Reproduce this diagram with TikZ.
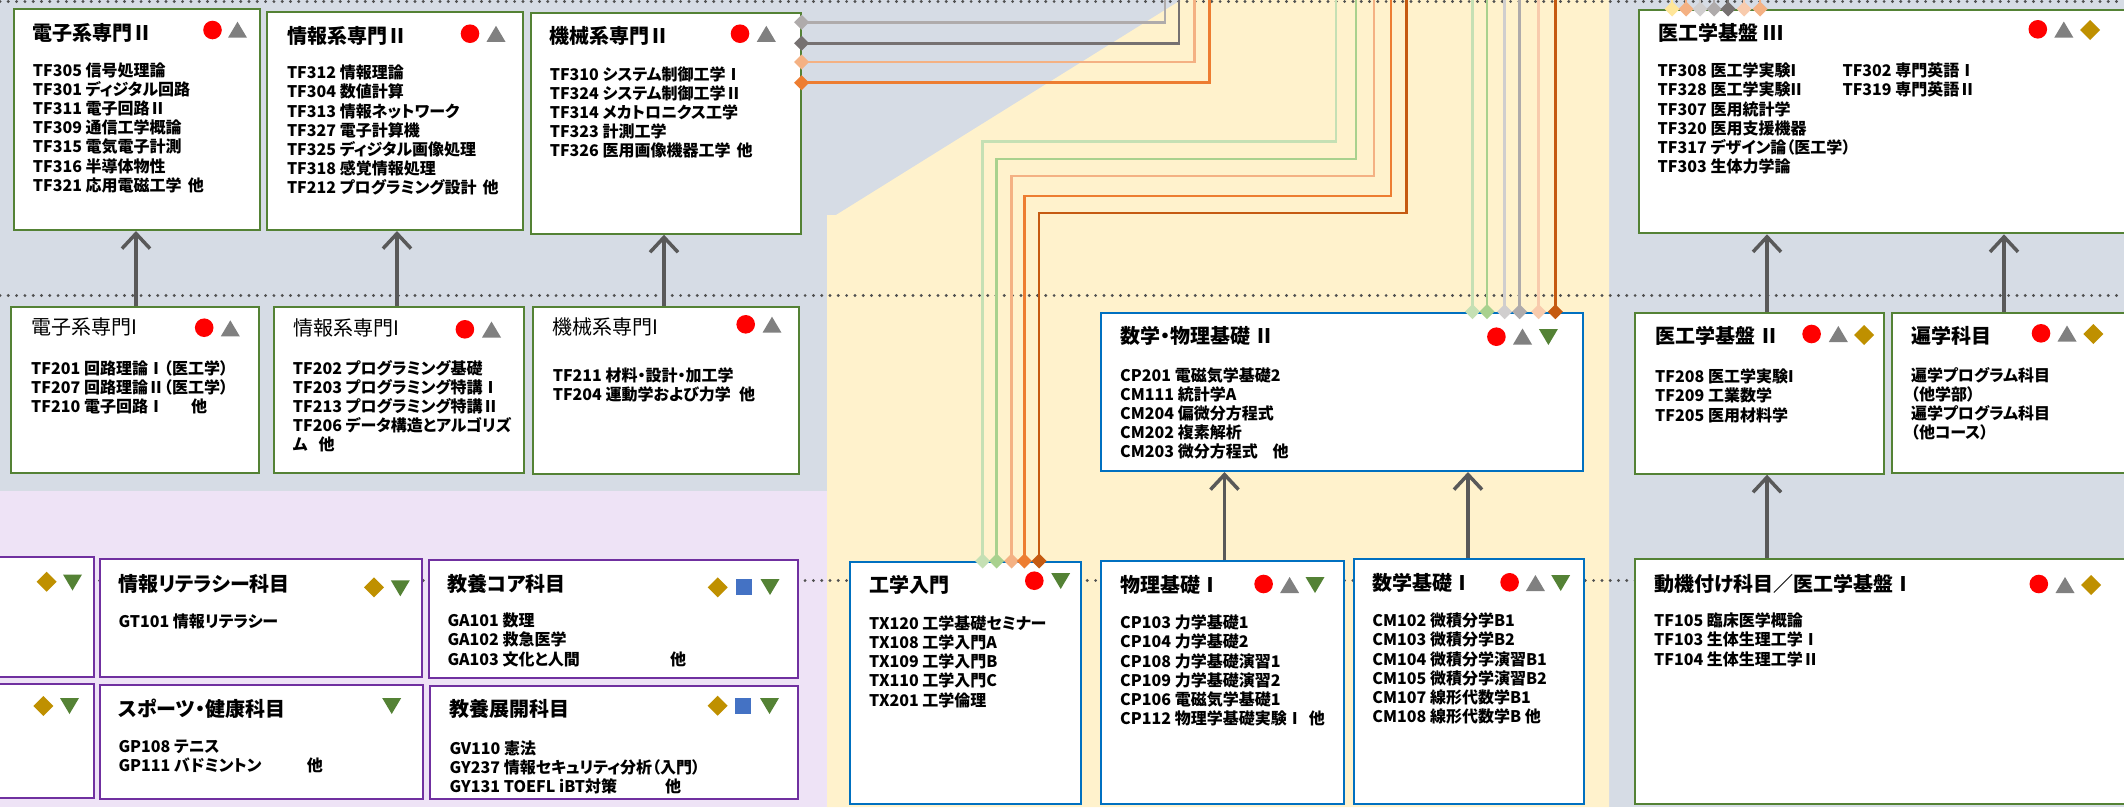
\documentclass[tikz,border=0pt]{standalone}
\usepackage{fontspec}
\setmainfont{Noto Sans CJK JP}[RawFeature=+palt]
\usetikzlibrary{arrows.meta}
\definecolor{bgblue}{HTML}{D6DCE5}
\definecolor{bgyellow}{HTML}{FFF2CC}
\definecolor{bgpurple}{HTML}{EEE3F6}
\definecolor{boxgreen}{HTML}{548235}
\definecolor{boxblue}{HTML}{0070C0}
\definecolor{boxpurple}{HTML}{7030A0}
\definecolor{arrowgray}{HTML}{595959}
\definecolor{dotgray}{HTML}{505050}
\definecolor{cred}{HTML}{FF0000}
\definecolor{cgray}{HTML}{808080}
\definecolor{cgreen}{HTML}{548235}
\definecolor{cgold}{HTML}{BF9000}
\definecolor{cblue}{HTML}{4472C4}
\definecolor{kLGreen}{HTML}{C5E0B4}
\definecolor{kGreen}{HTML}{A9D18E}
\definecolor{kLOrange}{HTML}{F4B183}
\definecolor{kOrange}{HTML}{ED7D31}
\definecolor{kDOrange}{HTML}{C55A11}
\definecolor{kPeach}{HTML}{F8CBAD}
\definecolor{kLGray}{HTML}{D0CECE}
\definecolor{kGray}{HTML}{AFABAB}
\definecolor{kDGray}{HTML}{767171}
\definecolor{kYellow}{HTML}{FFE699}
\newcommand\lns[1]{\parbox[t]{500pt}{\raggedright #1}}
\newcommand\symC[2]{\fill[cred] (#1,#2) circle[radius=9.3];}
\newcommand\symT[2]{\fill[cgray] ({#1-9.5},{#2+8}) -- ({#1+9.5},{#2+8}) -- (#1,{#2-8}) -- cycle;}
\newcommand\symG[2]{\fill[cgreen] ({#1-9.5},{#2-8}) -- ({#1+9.5},{#2-8}) -- (#1,{#2+8}) -- cycle;}
\newcommand\symD[2]{\fill[cgold] ({#1-10},#2) -- (#1,{#2-10}) -- ({#1+10},#2) -- (#1,{#2+10}) -- cycle;}
\newcommand\symS[2]{\fill[cblue] ({#1-8},{#2-8}) rectangle ({#1+8},{#2+8});}
\tikzset{
  boxbase/.style={line width=2pt, fill=white, inner sep=0pt, anchor=north west},
  gbox/.style={boxbase, draw=boxgreen},
  bbox/.style={boxbase, draw=boxblue},
  pbox/.style={boxbase, draw=boxpurple},
  ttl/.style={font=\fontsize{20}{24}\selectfont\bfseries, inner sep=0pt, anchor=base west},
  ttlr/.style={font=\fontsize{20}{24}\selectfont, inner sep=0pt, anchor=base west},
  bod/.style={font=\fontsize{16}{19.2}\selectfont\bfseries, inner sep=0pt, anchor=base west},
  garrow/.style={draw=arrowgray, line width=3.5pt, -{Straight Barb[length=15pt,width=28pt]}},
  conn/.style={color=#1, line width=2.5pt, -{Diamond[length=15pt,width=15pt]}, shorten >=-7.5pt},
  dotline/.style={draw=dotgray, line width=3.2pt, line cap=round, dash pattern=on 0pt off 8.3pt}
}
\begin{document}
\begin{tikzpicture}[x=1pt,y=-1pt]
\useasboundingbox (0,0) rectangle (2124,807);
\clip (0,0) rectangle (2124,807);
% backgrounds
\fill[bgblue] (0,0) rectangle (2124,807);
\fill[bgpurple] (0,491) rectangle (827,807);
\fill[bgyellow] (827,807) -- (827,215) -- (836,215) -- (1181,0) -- (1609,0) -- (1609,807) -- cycle;
% dotted guide lines
\draw[dotline] (0,1.5) -- (2124,1.5);
\draw[dotline] (0,295.5) -- (2124,295.5);
\draw[dotline] (0,580.5) -- (2124,580.5);
% ---------- boxes ----------
\node[gbox, minimum width=246.6pt, minimum height=220.7pt] (eII) at (12.7,8.3) {};
\node[gbox, minimum width=255.7pt, minimum height=218.3pt] (iII) at (266,10.7) {};
\node[gbox, minimum width=270pt, minimum height=220.4pt] (kII) at (529.6,12.3) {};
\node[gbox, minimum width=520pt, minimum height=223.3pt] (m3) at (1637.8,9) {};
\node[gbox, minimum width=248pt, minimum height=166.6pt] (eI) at (10.3,305.7) {};
\node[gbox, minimum width=250pt, minimum height=166.6pt] (iI) at (272.7,305.7) {};
\node[gbox, minimum width=266pt, minimum height=167pt] (kI) at (532.2,305.7) {};
\node[bbox, minimum width=482pt, minimum height=158.3pt] (mp2) at (1100,311.7) {};
\node[gbox, minimum width=249pt, minimum height=161pt] (m2) at (1634.4,311.7) {};
\node[gbox, minimum width=260pt, minimum height=160.3pt] (hen) at (1890.8,311.7) {};
\node[pbox, minimum width=122.7pt, minimum height=120pt] (L1) at (-30,556) {};
\node[pbox, minimum width=322pt, minimum height=117.7pt] (joho) at (98.7,558.3) {};
\node[pbox, minimum width=369pt, minimum height=118pt] (core) at (427.7,559.3) {};
\node[pbox, minimum width=122.7pt, minimum height=113.4pt] (L2) at (-30,683.3) {};
\node[pbox, minimum width=323.6pt, minimum height=114pt] (sports) at (98.7,684.3) {};
\node[pbox, minimum width=367.4pt, minimum height=113.3pt] (tenkai) at (429.3,685) {};
\node[bbox, minimum width=231pt, minimum height=241.7pt] (kogaku) at (848.6,561) {};
\node[bbox, minimum width=242.8pt, minimum height=243.3pt] (butsuri) at (1100.4,560) {};
\node[bbox, minimum width=230.3pt, minimum height=244.4pt] (sugaku) at (1352.9,558.3) {};
\node[gbox, minimum width=520pt, minimum height=244.4pt] (doki) at (1634.4,558.3) {};
% ---------- titles ----------
\node[ttl] (eIIt) at (32.7,40) {電子系専門Ⅱ};
\node[ttl] (iIIt) at (286.8,43) {情報系専門Ⅱ};
\node[ttl] (kIIt) at (549.6,43.5) {機械系専門Ⅱ};
\node[ttl] (m3t) at (1658.5,40.5) {医工学基盤 Ⅲ};
\node[ttlr] (eIt) at (31,334) {電子系専門I};
\node[ttlr] (iIt) at (293.4,335) {情報系専門I};
\node[ttlr] (kIt) at (552.6,334) {機械系専門I};
\node[ttl] (mp2t) at (1120,343.5) {数学・物理基礎 Ⅱ};
\node[ttl] (m2t) at (1655,343.5) {医工学基盤 Ⅱ};
\node[ttl] (hent) at (1910.8,343.5) {遍学科目};
\node[ttl] (johot) at (118.3,591) {情報リテラシー科目};
\node[ttl] (coret) at (447.3,591) {教養コア科目};
\node[ttl] (sportst) at (118.3,716.5) {スポーツ・健康科目};
\node[ttl] (tenkait) at (449.3,716.5) {教養展開科目};
\node[ttl] (kogakut) at (869,592) {工学入門};
\node[ttl] (butsurit) at (1120,592) {物理基礎Ⅰ};
\node[ttl] (sugakut) at (1372.2,590) {数学基礎Ⅰ};
\node[ttl] (dokit) at (1653.9,591) {動機付け科目／医工学基盤Ⅰ};
% ---------- bodies ----------
\node[bod] (eIIb) at (32.7,76) {\lns{TF305 信号処理論\\TF301 ディジタル回路\\TF311 電子回路Ⅱ\\TF309 通信工学概論\\TF315 電気電子計測\\TF316 半導体物性\\\makebox[171pt][l]{TF321 応用電磁工学\hspace{6pt}\hfill 他}}};
\node[bod] (iIIb) at (286.8,78.7) {\lns{TF312 情報理論\\TF304 数値計算\\TF313 情報ネットワーク\\TF327 電子計算機\\TF325 ディジタル画像処理\\TF318 感覚情報処理\\\makebox[202.7pt][l]{TF212 プログラミング設計\hspace{6pt}\hfill 他}}};
\node[bod] (kIIb) at (549.6,80) {\lns{TF310 システム制御工学Ⅰ\\TF324 システム制御工学Ⅱ\\TF314 メカトロニクス工学\\TF323 計測工学\\\makebox[201.8pt][l]{TF326 医用画像機器工学\hspace{6pt}\hfill 他}}};
\node[bod] (m3b) at (1657.5,76.7) {\lns{TF308 医工学実験I\\TF328 医工学実験II\\TF307 医用統計学\\TF320 医用支援機器\\TF317 デザイン論（医工学）\\TF303 生体力学論}};
\node[bod] (m3c) at (1842.3,76.7) {\lns{TF302 専門英語Ⅰ\\TF319 専門英語Ⅱ}};
\node[bod] (eIb) at (31,374.3) {\lns{TF201 回路理論Ⅰ（医工学）\\TF207 回路理論Ⅱ（医工学）\\\makebox[176pt][l]{TF210 電子回路Ⅰ\hspace{6pt}\hfill 他}}};
\node[bod] (iIb) at (292.7,374) {\lns{TF202 プログラミング基礎\\TF203 プログラミング特講Ⅰ\\TF213 プログラミング特講Ⅱ\\TF206 データ構造とアルゴリズ\\\makebox[41.8pt][l]{ム\hspace{6pt}\hfill 他}}};
\node[bod] (kIb) at (552.6,381) {\lns{TF211 材料・設計・加工学\\\makebox[202.4pt][l]{TF204 運動学および力学\hspace{6pt}\hfill 他}}};
\node[bod] (mp2b) at (1120,381) {\lns{CP201 電磁気学基礎2\\CM111 統計学A\\CM204 偏微分方程式\\CM202 複素解析\\\makebox[168.5pt][l]{CM203 微分方程式\hspace{6pt}\hfill 他}}};
\node[bod] (m2b) at (1655,382.7) {\lns{TF208 医工学実験I\\TF209 工業数学\\TF205 医用材料学}};
\node[bod] (henb) at (1910.8,381) {\lns{遍学プログラム科目\\（他学部）\\遍学プログラム科目\\（他コース）}};
\node[bod] (johob) at (118.3,627.7) {\lns{GT101 情報リテラシー}};
\node[bod] (coreb) at (447.3,626.7) {\lns{GA101 数理\\GA102 救急医学\\\makebox[238.7pt][l]{GA103 文化と人間\hspace{6pt}\hfill 他}}};
\node[bod] (sportsb) at (118.3,752.7) {\lns{GP108 テニス\\\makebox[204.4pt][l]{GP111 バドミントン\hspace{6pt}\hfill 他}}};
\node[bod] (tenkaib) at (449.3,754.3) {\lns{GV110 憲法\\GY237 情報セキュリティ分析（入門）\\\makebox[231.7pt][l]{GY131 TOEFL iBT対策\hspace{6pt}\hfill 他}}};
\node[bod] (kogakub) at (869,629.3) {\lns{TX120 工学基礎セミナー\\TX108 工学入門A\\TX109 工学入門B\\TX110 工学入門C\\TX201 工学倫理}};
\node[bod] (butsurib) at (1120,628.7) {\lns{CP103 力学基礎1\\CP104 力学基礎2\\CP108 力学基礎演習1\\CP109 力学基礎演習2\\CP106 電磁気学基礎1\\\makebox[204.6pt][l]{CP112 物理学基礎実験Ⅰ\hspace{6pt}\hfill 他}}};
\node[bod] (sugakub) at (1372.2,626.7) {\lns{CM102 微積分学B1\\CM103 微積分学B2\\CM104 微積分学演習B1\\CM105 微積分学演習B2\\CM107 線形代数学B1\\CM108 線形代数学B 他}};
\node[bod] (dokib) at (1653.9,626.7) {\lns{TF105 臨床医学概論\\TF103 生体生理工学Ⅰ\\TF104 生体生理工学Ⅱ}};
% ---------- symbols ----------
\symC{212.5}{30}\symT{237.5}{29.7}
\symC{470}{33.7}\symT{496}{33.8}
\symC{740}{33.7}\symT{766.3}{33.8}
\symC{2037.8}{29.3}\symT{2063.8}{29.5}\symD{2090}{30}
\symC{204.2}{327.7}\symT{230.3}{328.3}
\symC{464.9}{329.3}\symT{491.5}{329.5}
\symC{745.7}{324.3}\symT{772}{324.7}
\symC{1496.4}{336.7}\symT{1522.5}{336.5}\symG{1548.4}{337}
\symC{1811.6}{334}\symT{1838.3}{334}\symD{1864}{335}
\symC{2041}{333.3}\symT{2067}{333.5}\symD{2093.3}{334}
\symD{46.7}{581.7}\symG{72.5}{582.5}
\symD{374}{587.3}\symG{400.3}{588.3}
\symD{717.7}{587.3}\symS{743.8}{587}\symG{770}{587}
\symD{43.3}{706}\symG{69.5}{706}
\symG{391.7}{706}
\symD{717.7}{705.7}\symS{743}{706}\symG{769.5}{706}
\symC{1034.3}{580.7}\symG{1060.7}{581}
\symC{1263.6}{584}\symT{1289.6}{585}\symG{1315}{585}
\symC{1509.6}{582.3}\symT{1535.4}{583}\symG{1560.7}{583}
\symC{2038.8}{584}\symT{2065}{585}\symD{2091}{585}
% ---------- free ends of connectors (beyond the top edge) ----------
\coordinate (tA1) at (1165,-5);
\coordinate (tA2) at (1179,-5);
\coordinate (tA3) at (1194.6,-5);
\coordinate (tA4) at (1209.6,-5);
\coordinate (tB1) at (1336,-5);
\coordinate (tB2) at (1356,-5);
\coordinate (tB3) at (1374,-5);
\coordinate (tB4) at (1391,-5);
\coordinate (tB5) at (1406.4,-5);
\coordinate (tC1) at (1472.5,-5);
\coordinate (tC2) at (1487,-5);
\coordinate (tC3) at (1504.6,-5);
\coordinate (tC4) at (1519.6,-5);
\coordinate (tC5) at (1538.6,-5);
\coordinate (tC6) at (1555.4,-5);
\coordinate (tD1) at (1672,-5);
\coordinate (tD2) at (1686,-5);
\coordinate (tD3) at (1700,-5);
\coordinate (tD4) at (1714,-5);
\coordinate (tD5) at (1728,-5);
\coordinate (tD6) at (1744,-5);
\coordinate (tD7) at (1760,-5);
% ---------- connectors ----------
\draw[conn=kGray] (tA1) |- (kII.east |- 0,22.3);
\draw[conn=kDGray] (tA2) |- (kII.east |- 0,43.3);
\draw[conn=kLOrange] (tA3) |- (kII.east |- 0,62);
\draw[conn=kOrange] (tA4) |- (kII.east |- 0,82.7);
\draw[conn=kLGreen] (tB1) |- (982.5,141.7) -- (kogaku.north -| 982.5,0);
\draw[conn=kGreen] (tB2) |- (996.5,159) -- (kogaku.north -| 996.5,0);
\draw[conn=kLOrange] (tB3) |- (1011.5,176) -- (kogaku.north -| 1011.5,0);
\draw[conn=kOrange] (tB4) |- (1024.3,196) -- (kogaku.north -| 1024.3,0);
\draw[conn=kDOrange] (tB5) |- (1039,213) -- (kogaku.north -| 1039,0);
\draw[conn=kLGreen] (tC1) -- (mp2.north -| tC1);
\draw[conn=kGreen] (tC2) -- (mp2.north -| tC2);
\draw[conn=kLGray] (tC3) -- (mp2.north -| tC3);
\draw[conn=kGray] (tC4) -- (mp2.north -| tC4);
\draw[conn=kPeach] (tC5) -- (mp2.north -| tC5);
\draw[conn=kDOrange] (tC6) -- (mp2.north -| tC6);
\draw[conn=kYellow] (tD1) -- (m3.north -| tD1);
\draw[conn=kLOrange] (tD2) -- (m3.north -| tD2);
\draw[conn=kLGray] (tD3) -- (m3.north -| tD3);
\draw[conn=kGray] (tD4) -- (m3.north -| tD4);
\draw[conn=kDGray] (tD5) -- (m3.north -| tD5);
\draw[conn=kPeach] (tD6) -- (m3.north -| tD6);
\draw[conn=kLOrange] (tD7) -- (m3.north -| tD7);
% ---------- gray arrows ----------
\draw[garrow] (eI.north -| 136,0) -- (eII.south -| 136,0);
\draw[garrow] (iI.north -| 397,0) -- (iII.south -| 397,0);
\draw[garrow] (kI.north -| 664,0) -- (kII.south -| 664,0);
\draw[garrow] (m2.north -| 1767,0) -- (m3.south -| 1767,0);
\draw[garrow] (hen.north -| 2004,0) -- (m3.south -| 2004,0);
\draw[garrow] (butsuri.north -| 1224.5,0) -- (mp2.south -| 1224.5,0);
\draw[garrow] (sugaku.north -| 1468,0) -- (mp2.south -| 1468,0);
\draw[garrow] (doki.north -| 1767,0) -- (m2.south -| 1767,0);
\end{tikzpicture}
\end{document}
